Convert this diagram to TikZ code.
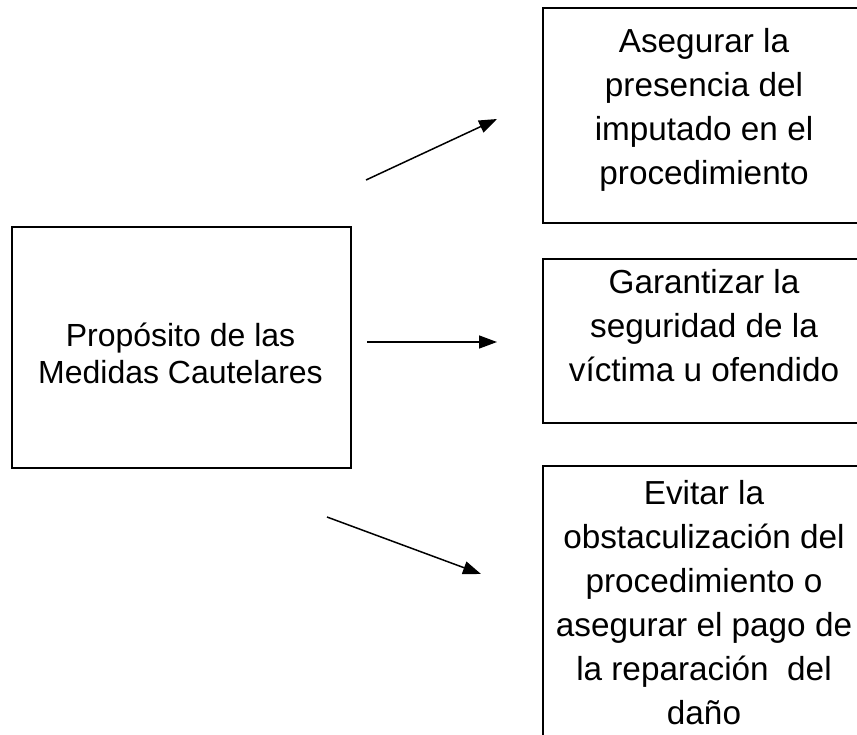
\documentclass[tikz,border=0pt]{standalone}
\usepackage{fontspec}
\setmainfont{Liberation Sans}
\usetikzlibrary{arrows.meta}
\begin{document}
\begin{tikzpicture}[x=1pt,y=-1pt,
  box/.style={draw, line width=1.5pt, rectangle, inner sep=0pt, anchor=north west},
  rtxt/.style={align=center, font=\fontsize{33.3}{44}\selectfont, inner sep=0pt, anchor=base},
  ltxt/.style={align=center, font=\fontsize{32}{36.5}\selectfont, inner sep=0pt, anchor=base},
  arr/.style={line width=1.5pt, -{Triangle[length=18pt,width=13pt]}}]
\useasboundingbox (0,0) rectangle (857,734);
\clip (0,0) rectangle (857,734);
% left box
\node[box, minimum width=339pt, minimum height=241pt] (src) at (11,226) {};
\node[ltxt] (srct) at (180.5,383) {Propósito de las\\Medidas Cautelares};
% right boxes
\node[box, minimum width=330pt, minimum height=215pt] (b1) at (542,7) {};
\node[rtxt] (t1) at (704,184) {Asegurar la\\presencia del\\imputado en el\\procedimiento};
\node[box, minimum width=330pt, minimum height=164pt] (b2) at (542,258) {};
\node[rtxt] (t2) at (704,381) {Garantizar la\\seguridad de la\\víctima u ofendido};
\node[box, minimum width=330pt, minimum height=300pt] (b3) at (542,465) {};
\node[rtxt] (t3) at (704,724) {Evitar la\\obstaculización del\\procedimiento o\\asegurar el pago de\\la reparación\ \ del\\daño};
% arrows
\coordinate (a1s) at (366,180);
\coordinate (a1e) at (497,119);
\coordinate (a2s) at (367,342);
\coordinate (a2e) at (497,342);
\coordinate (a3s) at (327,517);
\coordinate (a3e) at (481,574);
\draw[arr] (a1s) -- (a1e);
\draw[arr] (a2s) -- (a2e);
\draw[arr] (a3s) -- (a3e);
\end{tikzpicture}
\end{document}
